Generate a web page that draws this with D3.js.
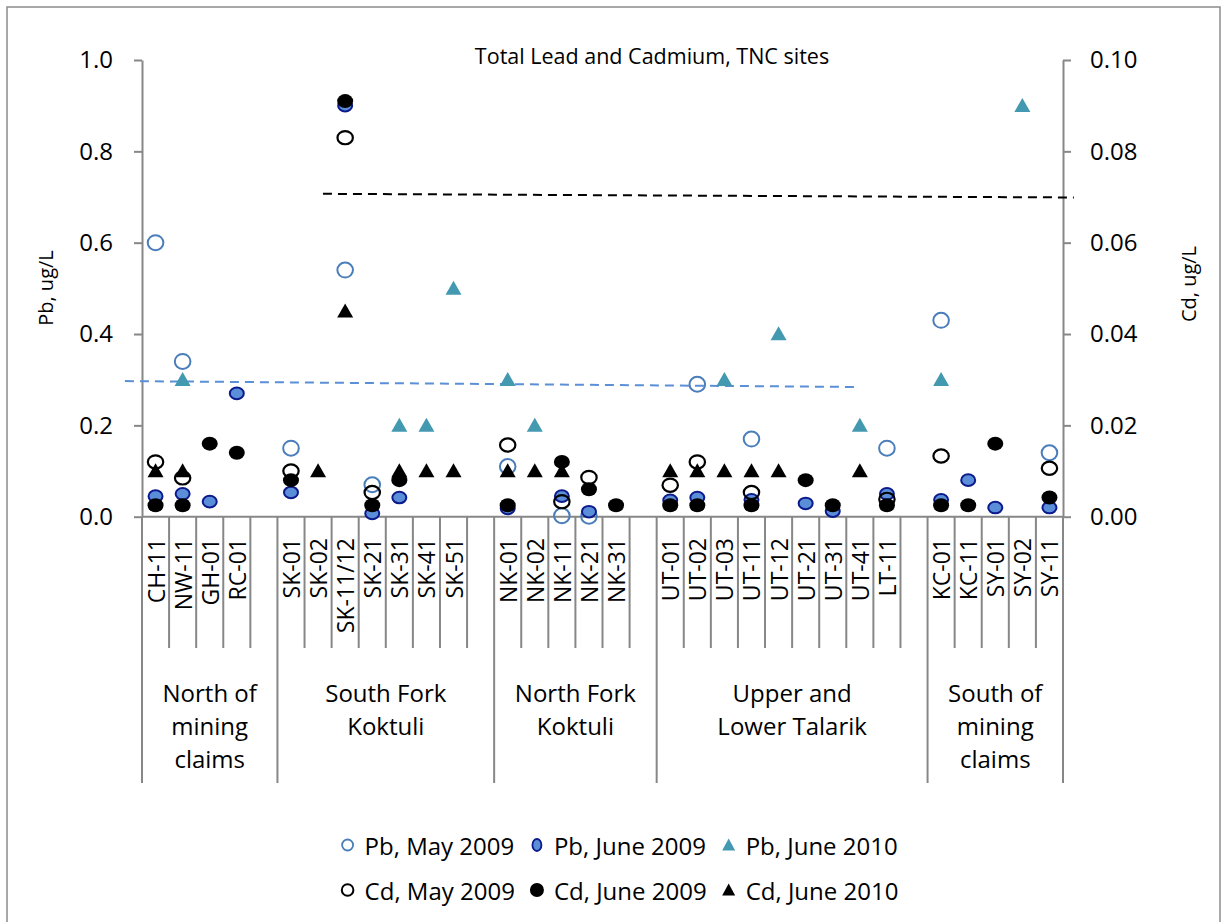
<!DOCTYPE html>
<html><head><meta charset="utf-8">
<script src="https://cdn.jsdelivr.net/npm/d3@7"></script>
<style>
body{margin:0;background:#fff}
svg text{font-family:"Open Sans",sans-serif;fill:#000}
</style>
</head><body>
<svg id="chart" width="1222" height="922"></svg>
<script>
// ---------- data ----------
const chartTitle = "Total Lead and Cadmium, TNC sites";
const leftTitle = "Pb, ug/L";
const rightTitle = "Cd, ug/L";
const pbTicks = [0, 0.2, 0.4, 0.6, 0.8, 1.0];
const cdTicks = [0, 0.02, 0.04, 0.06, 0.08, 0.10];

const groupLabels = [
  ["North of", "mining", "claims"],
  ["South Fork", "Koktuli"],
  ["North Fork", "Koktuli"],
  ["Upper and", "Lower Talarik"],
  ["South of", "mining", "claims"]
];
const groupSites = [
  ["CH-11", "NW-11", "GH-01", "RC-01"],
  ["SK-01", "SK-02", "SK-11/12", "SK-21", "SK-31", "SK-41", "SK-51"],
  ["NK-01", "NK-02", "NK-11", "NK-21", "NK-31"],
  ["UT-01", "UT-02", "UT-03", "UT-11", "UT-12", "UT-21", "UT-31", "UT-41", "LT-11"],
  ["KC-01", "KC-11", "SY-01", "SY-02", "SY-11"]
];
// blank slot after each group except the last (as in the source chart)
const groupBlank = [1, 1, 1, 1, 0];

// values in site order (flattened groupSites)
const pbMay09 = [0.60,0.34,null,null, 0.15,null,0.54,0.07,null,null,null, 0.11,null,0.002,0.001,null, null,0.29,null,0.17,null,null,null,null,0.15, 0.43,null,null,null,0.14];
const pbJun09 = [0.045,0.05,0.033,0.27, 0.053,null,0.90,0.007,0.042,null,null, 0.018,null,0.045,0.011,null, 0.036,0.042,null,0.037,null,0.029,0.012,null,0.05, 0.037,0.08,0.02,null,0.02];
const pbJun10 = [null,0.30,null,null, null,null,null,null,0.20,0.20,0.50, 0.30,0.20,null,null,null, null,null,0.30,null,0.40,null,null,0.20,null, 0.30,null,null,0.90,null];
const cdMay09 = [0.012,0.0085,null,null, 0.010,null,0.083,0.0053,null,null,null, 0.0157,null,0.0033,0.0086,null, 0.0069,0.012,null,0.0053,null,null,null,null,0.0038, 0.0133,null,null,null,0.0106];
const cdJun09 = [0.0025,0.0025,0.016,0.014, 0.008,null,0.091,0.0025,0.008,null,null, 0.0025,null,0.012,0.006,0.0025, 0.0025,0.0025,null,0.0025,null,0.008,0.0025,null,0.0025, 0.0025,0.0025,0.016,null,0.0042];
const cdJun10 = [0.010,0.010,null,null, null,0.010,0.045,null,0.010,0.010,0.010, 0.010,0.010,0.010,null,null, 0.010,0.010,0.010,0.010,0.010,null,null,0.010,null, null,null,null,null,null];

// hand-drawn dashed guide lines (x in category units, y in axis units)
const cdGuideX = [6.68, 34.4];
const cdGuideY = [0.0707, 0.0699];
const pbGuideX = [-0.63, 26.4];
const pbGuideY = [0.297, 0.284];

const seriesNames = ["Pb, May 2009", "Pb, June 2009", "Pb, June 2010", "Cd, May 2009", "Cd, June 2009", "Cd, June 2010"];

// ---------- layout ----------
const svg = d3.select("#chart");
const L = 142, R = 1063, T = 60, B = 516.7;
const sepShort = 648, sepLong = 783;
const axisCol = "#878787";

// categories incl. blank slots
const cats = [];
const groupStart = [];
let siteIdx = 0;
groupSites.forEach((g, gi) => {
  groupStart.push(cats.length);
  g.forEach(s => cats.push({label: s, site: siteIdx++}));
  for (let k = 0; k < groupBlank[gi]; k++) cats.push({label: "", site: null});
});
groupStart.push(cats.length);
const nCat = cats.length;
const siteCat = [];
cats.forEach((c, i) => { if (c.site !== null) siteCat[c.site] = i; });

const x = d3.scaleBand().domain(d3.range(nCat)).range([L, R]).padding(0);
const xLin = d3.scaleLinear().domain([0, nCat]).range([L, R]);
const yPb = d3.scaleLinear().domain([0, 1]).range([B, T]);
const yCd = d3.scaleLinear().domain([0, 0.1]).range([B, T]);

// outer border
svg.append("rect").attr("x", 7).attr("y", 7).attr("width", 1213).attr("height", 930)
  .attr("fill", "none").attr("stroke", "#8c8c8c").attr("stroke-width", 1.5);

// title
svg.append("text").attr("x", 652).attr("y", 64).attr("text-anchor", "middle")
  .style("font-size", "21.5px").text(chartTitle);

// left axis
const gL = svg.append("g").attr("transform", `translate(${L},0)`)
  .call(d3.axisLeft(yPb).tickValues(pbTicks).tickFormat(d3.format(".1f")).tickSize(8).tickSizeOuter(0).tickPadding(21));
// right axis
const gR = svg.append("g").attr("transform", `translate(${R},0)`)
  .call(d3.axisRight(yCd).tickValues(cdTicks).tickFormat(d3.format(".2f")).tickSize(8).tickSizeOuter(0).tickPadding(19));
[gL, gR].forEach(g => {
  g.select(".domain").attr("stroke", axisCol).attr("stroke-width", 2);
  g.selectAll(".tick line").attr("stroke", axisCol).attr("stroke-width", 2);
  g.selectAll(".tick text").style("font-size", "24px").style("font-family", "'Open Sans',sans-serif").attr("fill", "#000");
});

// axis titles
svg.append("text").attr("transform", `translate(45,288) rotate(-90)`).attr("text-anchor", "middle")
  .attr("dominant-baseline", "central").style("font-size", "20px").text(leftTitle);
svg.append("text").attr("transform", `translate(1188,284) rotate(-90)`).attr("text-anchor", "middle")
  .attr("dominant-baseline", "central").style("font-size", "20px").text(rightTitle);

// category axis line
svg.append("line").attr("x1", L).attr("x2", R).attr("y1", B).attr("y2", B)
  .attr("stroke", axisCol).attr("stroke-width", 2);
// separators
const bounds = d3.range(nCat + 1);
svg.append("g").selectAll("line").data(bounds).join("line")
  .attr("x1", d => xLin(d)).attr("x2", d => xLin(d))
  .attr("y1", B).attr("y2", d => groupStart.includes(d) ? sepLong : sepShort)
  .attr("stroke", axisCol).attr("stroke-width", 2);

// category labels
svg.append("g").selectAll("text").data(cats.filter(c => c.label)).join("text")
  .attr("transform", d => `translate(${x(siteCat[d.site]) + x.bandwidth() / 2},538) rotate(-90)`)
  .attr("text-anchor", "end").attr("dominant-baseline", "central")
  .style("font-size", "23px").text(d => d.label);

// group labels
groupLabels.forEach((lines, gi) => {
  const cx = (xLin(groupStart[gi]) + xLin(groupStart[gi + 1])) / 2;
  lines.forEach((ln, li) => {
    svg.append("text").attr("x", cx).attr("y", 692 + li * 33)
      .attr("text-anchor", "middle").attr("dominant-baseline", "central")
      .style("font-size", "24px").text(ln);
  });
});

// guide lines
const guide = (xs, ys, yScale, col) => svg.append("line")
  .attr("x1", xLin(xs[0])).attr("x2", xLin(xs[1]))
  .attr("y1", yScale(ys[0])).attr("y2", yScale(ys[1]))
  .attr("stroke", col).attr("stroke-width", 2).attr("stroke-dasharray", "9,6");
guide(pbGuideX, pbGuideY, yPb, "#5b8fd6");
guide(cdGuideX, cdGuideY, yCd, "#000");

// marker styles
const triPath = (w, h) => `M0,${-h * 0.55}L${w / 2},${h * 0.45}L${-w / 2},${h * 0.45}Z`;
const styles = [
  {type: "ellipse", rx: 7.8, ry: 7.5, fill: "none", stroke: "#4a7ebb", sw: 2},
  {type: "ellipse", rx: 7, ry: 5.8, fill: "#5a8ed8", stroke: "#0c1a8c", sw: 2},
  {type: "tri", w: 16, h: 14, fill: "#4399b0"},
  {type: "ellipse", rx: 7.7, ry: 6.6, fill: "none", stroke: "#000", sw: 2.2},
  {type: "ellipse", rx: 8, ry: 7, fill: "#000", stroke: "none", sw: 0},
  {type: "tri", w: 16, h: 14, fill: "#000"}
];
const series = [
  {vals: pbMay09, y: yPb}, {vals: pbJun09, y: yPb}, {vals: pbJun10, y: yPb},
  {vals: cdMay09, y: yCd}, {vals: cdJun09, y: yCd}, {vals: cdJun10, y: yCd}
];

function drawMarker(sel, st) {
  if (st.type === "ellipse") {
    sel.append("ellipse").attr("rx", st.rx).attr("ry", st.ry)
      .attr("fill", st.fill).attr("stroke", st.stroke).attr("stroke-width", st.sw);
  } else {
    sel.append("path").attr("d", triPath(st.w, st.h)).attr("fill", st.fill);
  }
}

series.forEach((s, si) => {
  const pts = s.vals.map((v, i) => ({v, i})).filter(d => d.v !== null);
  const g = svg.append("g");
  pts.forEach(d => {
    const m = g.append("g").attr("transform",
      `translate(${x(siteCat[d.i]) + x.bandwidth() / 2},${s.y(d.v)})`);
    drawMarker(m, styles[si]);
  });
});

// legend
const legStyles = [
  {type: "ellipse", rx: 5.5, ry: 5.5, fill: "none", stroke: "#4a7ebb", sw: 1.8},
  {type: "ellipse", rx: 4.5, ry: 6, fill: "#5a8ed8", stroke: "#0c1a8c", sw: 1.8},
  {type: "tri", w: 13, h: 12, fill: "#4399b0"},
  {type: "ellipse", rx: 5.8, ry: 5.8, fill: "none", stroke: "#000", sw: 2},
  {type: "ellipse", rx: 7, ry: 7, fill: "#000", stroke: "none", sw: 0},
  {type: "tri", w: 13, h: 12, fill: "#000"}
];
const legRowsY = [845, 890];
const legG = svg.append("g");
const tmp = legG.append("g");
const widths = seriesNames.map(n => {
  const t = tmp.append("text").style("font-size", "24px").text(n);
  return t.node().getComputedTextLength();
});
tmp.remove();
const colW = [0, 1, 2].map(c => Math.max(widths[c], widths[c + 3]));
const markGap = 17, colGap = 22;
const totalW = colW.reduce((a, w) => a + markGap + w, 0) + colGap * 2;
let cx0 = 615 - totalW / 2 + 8;
const colX = [];
colW.forEach(w => { colX.push(cx0); cx0 += markGap + w + colGap; });
seriesNames.forEach((n, i) => {
  const col = i % 3, row = Math.floor(i / 3);
  const g = legG.append("g").attr("transform", `translate(${colX[col]},${legRowsY[row]})`);
  drawMarker(g, legStyles[i]);
  g.append("text").attr("x", markGap).attr("dominant-baseline", "central")
    .style("font-size", "24px").text(n);
});
</script>
</body></html>
